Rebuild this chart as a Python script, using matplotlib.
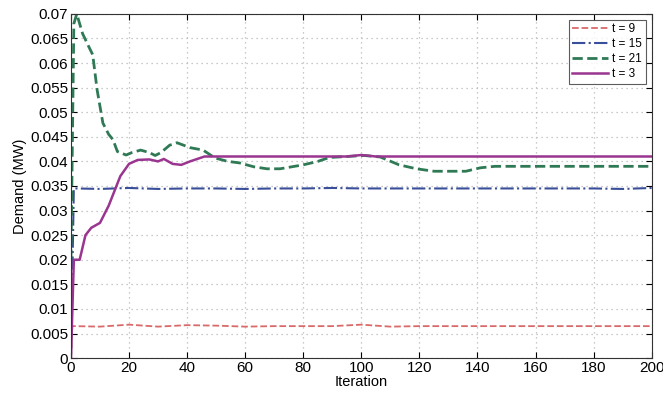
import matplotlib
matplotlib.use("Agg")
import matplotlib.pyplot as plt

plt.rcParams['font.family'] = ['Liberation Sans', 'DejaVu Sans']

# t = 9
x9 = [0, 0.5, 1, 10, 20, 30, 40, 50, 60, 70, 80, 90, 100, 110, 120, 130, 140, 150, 160, 170, 180, 190, 200]
y9 = [0, 0.0065, 0.0065, 0.0064, 0.0068, 0.0064, 0.0067, 0.0066, 0.0064, 0.0065, 0.0065, 0.0065, 0.0068, 0.0064, 0.0065, 0.0065, 0.0065, 0.0065, 0.0065, 0.0065, 0.0065, 0.0065, 0.0065]
# t = 15
x15 = [0, 1, 2, 10, 20, 30, 40, 50, 60, 70, 80, 90, 100, 110, 120, 130, 140, 150, 160, 170, 180, 190, 200]
y15 = [0, 0.0345, 0.0345, 0.0344, 0.0346, 0.0344, 0.0345, 0.0345, 0.0344, 0.0345, 0.0345, 0.0346, 0.0345, 0.0345, 0.0345, 0.0345, 0.0345, 0.0345, 0.0345, 0.0345, 0.0345, 0.0344, 0.0346]
# t = 21
x21 = [0, 1, 2, 4, 6, 7.5, 9, 11, 13, 14.5, 16, 19, 21, 24, 27, 29, 31, 34, 36.5, 41, 45.5, 49.6, 54, 58, 63, 67.5, 72, 80, 85, 89, 95, 101, 106.5, 113, 119, 125, 136, 141, 146, 160, 180, 200]
y21 = [0.02, 0.068, 0.07, 0.066, 0.0635, 0.0617, 0.0546, 0.0478, 0.0455, 0.0444, 0.042, 0.0413, 0.0418, 0.0423, 0.0418, 0.0412, 0.0418, 0.0433, 0.0438, 0.0428, 0.0423, 0.0407, 0.0400, 0.0397, 0.0389, 0.0385, 0.0385, 0.0393, 0.0400, 0.0408, 0.041, 0.0412, 0.0409, 0.0393, 0.0385, 0.038, 0.038, 0.0387, 0.039, 0.039, 0.039, 0.039]
# t = 3
x3 = [0, 1, 3, 5, 7, 10, 13, 15, 17, 20, 23, 27, 30, 32, 35, 38, 41, 46, 60, 80, 95, 100, 105, 120, 140, 160, 180, 200]
y3 = [0, 0.02, 0.02, 0.025, 0.0265, 0.0275, 0.031, 0.034, 0.037, 0.0395, 0.0403, 0.0404, 0.040, 0.0405, 0.0395, 0.0393, 0.040, 0.041, 0.041, 0.041, 0.041, 0.0413, 0.041, 0.041, 0.041, 0.041, 0.041, 0.041]

xticks = list(range(0, 201, 20))
yticks = [i * 0.005 for i in range(15)]
ytick_labels = ['0', '0.005', '0.01', '0.015', '0.02', '0.025', '0.03', '0.035', '0.04', '0.045', '0.05', '0.055', '0.06', '0.065', '0.07']

fig = plt.figure(figsize=(6.63, 3.97), dpi=100)
ax = fig.add_axes([0.107, 0.098, 0.876, 0.867])

ax.plot(x9, y9, '--', color='#d96a6a', lw=1.3, label='t = 9')
ax.plot(x15, y15, '-.', color='#3a4f9a', lw=1.5, label='t = 15')
ax.plot(x21, y21, '--', color='#2f7a55', lw=2.0, label='t = 21')
ax.plot(x3, y3, '-', color='#9a3590', lw=1.8, label='t = 3')

ax.set_xlim(0, 200)
ax.set_ylim(0, 0.07)
ax.set_xticks(xticks)
ax.set_yticks(yticks)
ax.set_yticklabels(ytick_labels)
ax.tick_params(direction='in', top=True, right=True, labelsize=11, length=4, pad=2)
ax.grid(True, linestyle=(0, (1, 3)), color='#b8b8b8', lw=0.9)
ax.set_xlabel('Iteration', fontsize=10.5, labelpad=0)
ax.set_ylabel('Demand (MW)', fontsize=10.5, labelpad=2)
for s in ax.spines.values():
    s.set_color('#333333')

leg = ax.legend(loc='upper right', fontsize=8.5, frameon=True, fancybox=False,
                edgecolor='#333333', handlelength=3.0, handletextpad=0.4,
                borderpad=0.3, labelspacing=0.25, borderaxespad=0.5)
leg.get_frame().set_linewidth(0.8)

fig.savefig('out.png', dpi=100)
